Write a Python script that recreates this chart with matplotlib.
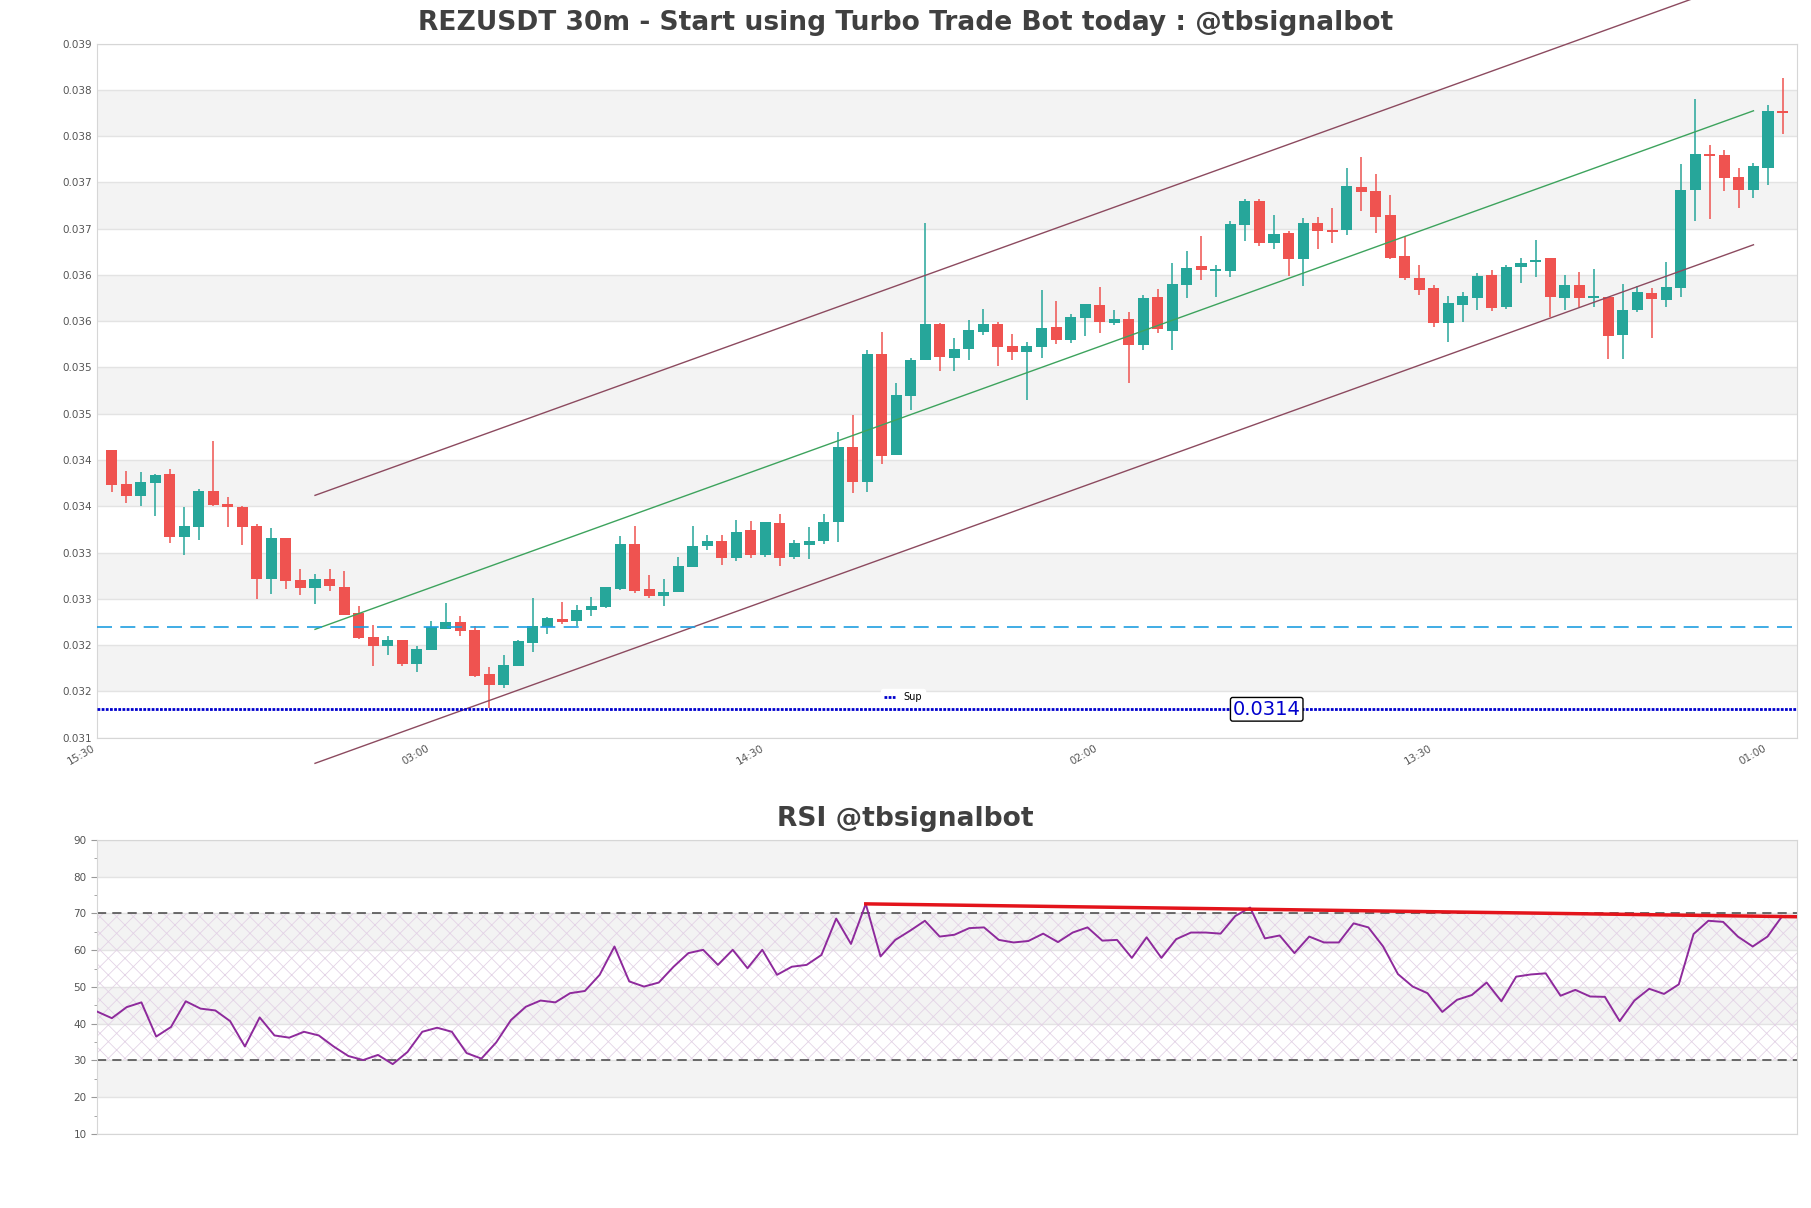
import numpy as np
import matplotlib
matplotlib.use("Agg")
import matplotlib.pyplot as plt
from matplotlib.ticker import FormatStrFormatter, MultipleLocator

# 30m candles
opens = [0.03420, 0.03383, 0.03371, 0.03385, 0.03394, 0.03326, 0.03337, 0.03376, 0.03362, 0.03359,
         0.03338, 0.03281, 0.03325, 0.03280, 0.03271, 0.03281, 0.03272, 0.03244, 0.03218, 0.03208,
         0.03215, 0.03189, 0.03204, 0.03227, 0.03234, 0.03226, 0.03178, 0.03166, 0.03187, 0.03212,
         0.03229, 0.03238, 0.03235, 0.03247, 0.03251, 0.03270, 0.03319, 0.03270, 0.03262, 0.03267,
         0.03294, 0.03316, 0.03322, 0.03303, 0.03334, 0.03307, 0.03341, 0.03305, 0.03318, 0.03322,
         0.03342, 0.03423, 0.03386, 0.03524, 0.03415, 0.03479, 0.03517, 0.03556, 0.03520, 0.03529,
         0.03548, 0.03556, 0.03533, 0.03526, 0.03532, 0.03553, 0.03539, 0.03563, 0.03577, 0.03558,
         0.03562, 0.03534, 0.03586, 0.03549, 0.03599, 0.03619, 0.03614, 0.03614, 0.03663, 0.03689,
         0.03644, 0.03655, 0.03627, 0.03665, 0.03658, 0.03658, 0.03704, 0.03700, 0.03674, 0.03630,
         0.03606, 0.03595, 0.03558, 0.03577, 0.03585, 0.03609, 0.03575, 0.03618, 0.03623, 0.03628,
         0.03585, 0.03599, 0.03585, 0.03586, 0.03544, 0.03571, 0.03590, 0.03582, 0.03595, 0.03701,
         0.03740, 0.03739, 0.03715, 0.03701, 0.03725, 0.03787]
highs = [0.03420, 0.03398, 0.03396, 0.03394, 0.03400, 0.03359, 0.03378, 0.03430, 0.03369, 0.03360,
         0.03340, 0.03336, 0.03325, 0.03292, 0.03286, 0.03292, 0.03289, 0.03252, 0.03231, 0.03219,
         0.03215, 0.03208, 0.03235, 0.03255, 0.03241, 0.03230, 0.03186, 0.03199, 0.03215, 0.03260,
         0.03240, 0.03256, 0.03253, 0.03261, 0.03272, 0.03327, 0.03338, 0.03285, 0.03281, 0.03305,
         0.03338, 0.03328, 0.03328, 0.03345, 0.03343, 0.03342, 0.03351, 0.03323, 0.03337, 0.03351,
         0.03440, 0.03458, 0.03528, 0.03548, 0.03493, 0.03520, 0.03665, 0.03558, 0.03541, 0.03561,
         0.03573, 0.03559, 0.03546, 0.03537, 0.03593, 0.03581, 0.03567, 0.03578, 0.03596, 0.03571,
         0.03569, 0.03588, 0.03594, 0.03622, 0.03635, 0.03651, 0.03620, 0.03668, 0.03692, 0.03691,
         0.03674, 0.03657, 0.03671, 0.03672, 0.03682, 0.03725, 0.03737, 0.03718, 0.03696, 0.03652,
         0.03620, 0.03598, 0.03587, 0.03591, 0.03612, 0.03615, 0.03620, 0.03628, 0.03647, 0.03628,
         0.03609, 0.03613, 0.03616, 0.03586, 0.03600, 0.03597, 0.03595, 0.03623, 0.03729, 0.03799,
         0.03750, 0.03744, 0.03725, 0.03730, 0.03793, 0.03822]
lows = [0.03375, 0.03363, 0.03360, 0.03349, 0.03320, 0.03307, 0.03323, 0.03360, 0.03337, 0.03318,
        0.03259, 0.03265, 0.03270, 0.03264, 0.03254, 0.03268, 0.03242, 0.03216, 0.03187, 0.03199,
        0.03187, 0.03180, 0.03204, 0.03227, 0.03219, 0.03175, 0.03141, 0.03163, 0.03187, 0.03202,
        0.03221, 0.03232, 0.03230, 0.03241, 0.03250, 0.03269, 0.03266, 0.03260, 0.03252, 0.03267,
        0.03294, 0.03312, 0.03296, 0.03300, 0.03303, 0.03305, 0.03295, 0.03302, 0.03302, 0.03319,
        0.03321, 0.03374, 0.03375, 0.03405, 0.03415, 0.03463, 0.03517, 0.03506, 0.03506, 0.03518,
        0.03544, 0.03511, 0.03517, 0.03474, 0.03520, 0.03535, 0.03536, 0.03543, 0.03547, 0.03555,
        0.03493, 0.03528, 0.03547, 0.03528, 0.03585, 0.03604, 0.03586, 0.03607, 0.03646, 0.03641,
        0.03637, 0.03608, 0.03597, 0.03637, 0.03644, 0.03653, 0.03678, 0.03655, 0.03627, 0.03604,
        0.03588, 0.03553, 0.03537, 0.03559, 0.03571, 0.03570, 0.03573, 0.03601, 0.03607, 0.03564,
        0.03571, 0.03575, 0.03575, 0.03519, 0.03519, 0.03569, 0.03541, 0.03575, 0.03586, 0.03668,
        0.03670, 0.03700, 0.03682, 0.03693, 0.03707, 0.03762]
closes = [0.03382, 0.03371, 0.03386, 0.03393, 0.03326, 0.03338, 0.03376, 0.03361, 0.03359, 0.03337,
          0.03281, 0.03325, 0.03279, 0.03271, 0.03281, 0.03273, 0.03242, 0.03217, 0.03208, 0.03215,
          0.03189, 0.03205, 0.03229, 0.03234, 0.03225, 0.03176, 0.03166, 0.03188, 0.03214, 0.03230,
          0.03239, 0.03234, 0.03247, 0.03252, 0.03272, 0.03319, 0.03268, 0.03262, 0.03267, 0.03295,
          0.03316, 0.03322, 0.03304, 0.03332, 0.03307, 0.03342, 0.03304, 0.03320, 0.03322, 0.03342,
          0.03423, 0.03386, 0.03524, 0.03414, 0.03480, 0.03517, 0.03556, 0.03521, 0.03529, 0.03550,
          0.03556, 0.03532, 0.03526, 0.03533, 0.03552, 0.03539, 0.03564, 0.03578, 0.03559, 0.03562,
          0.03534, 0.03584, 0.03551, 0.03600, 0.03617, 0.03615, 0.03615, 0.03664, 0.03689, 0.03644,
          0.03654, 0.03627, 0.03665, 0.03657, 0.03656, 0.03705, 0.03699, 0.03672, 0.03628, 0.03606,
          0.03593, 0.03558, 0.03579, 0.03587, 0.03608, 0.03574, 0.03618, 0.03622, 0.03626, 0.03586,
          0.03599, 0.03585, 0.03586, 0.03543, 0.03572, 0.03591, 0.03583, 0.03596, 0.03701, 0.03740,
          0.03738, 0.03714, 0.03701, 0.03727, 0.03787, 0.03784]

rsi = [43.3, 41.5, 44.5, 45.8, 36.5, 39.1, 46.1, 44.1, 43.6, 40.7,
       33.8, 41.7, 36.8, 36.2, 37.8, 36.8, 33.8, 31.2, 30.1, 31.5,
       29.0, 32.3, 37.8, 38.9, 37.8, 32.0, 30.5, 34.9, 41.0, 44.6,
       46.3, 45.8, 48.3, 48.9, 53.3, 61.0, 51.5, 50.1, 51.2, 55.5,
       59.2, 60.1, 56.0, 60.1, 55.1, 60.1, 53.3, 55.5, 56.0, 58.7,
       68.6, 61.7, 72.6, 58.3, 62.8, 65.3, 68.0, 63.7, 64.2, 66.0,
       66.2, 62.8, 62.1, 62.5, 64.5, 62.2, 64.8, 66.2, 62.6, 62.8,
       57.9, 63.5, 57.9, 63.0, 64.8, 64.8, 64.5, 69.3, 71.6, 63.2,
       64.0, 59.2, 63.7, 62.1, 62.1, 67.3, 66.2, 61.0, 53.5, 50.1,
       48.3, 43.2, 46.5, 47.8, 51.2, 46.1, 52.8, 53.4, 53.7, 47.6,
       49.2, 47.4, 47.3, 40.7, 46.3, 49.5, 48.1, 50.7, 64.4, 68.0,
       67.7, 63.7, 61.0, 63.7, 69.3, 69.1]

time_labels = ["15:30", "03:00", "14:30", "02:00", "13:30", "01:00"]
time_label_idx = [-1, 22, 45, 68, 91, 114]

support = 0.0314
level = 0.03229
channel_idx = [14, 113]
channel_mid = [0.032264, 0.037868]
channel_width = 0.001448
rsi_div_idx = [52, 115]
rsi_div_val = [72.6, 69.1]

opens, highs, lows, closes = map(np.array, (opens, highs, lows, closes))
n = len(closes)
x = np.arange(n)

fig = plt.figure(figsize=(18.11, 12.08), dpi=100)
ax = fig.add_axes([0.0536, 0.3894, 0.9387, 0.5745])
ax2 = fig.add_axes([0.0536, 0.0613, 0.9387, 0.2434])

# ---- price panel ----
y_bottom = 0.031094
yticks = np.linspace(y_bottom, y_bottom + 15 * 0.0005, 16)
for k in range(15):
    if k % 2 == 1:
        ax.axhspan(yticks[k], yticks[k + 1], color="#f3f3f3", lw=0, zorder=0)
for yv in yticks:
    ax.axhline(yv, color="#e3e3e3", lw=1, zorder=0.5)

up = closes >= opens
colors = np.where(up, "#26a69a", "#ef5350")
ax.vlines(x, lows, highs, colors=colors, lw=1.1, zorder=2)
body = np.maximum(np.abs(closes - opens), 0.00002)
ax.bar(x, body, bottom=np.minimum(opens, closes), width=0.76, color=colors, zorder=3)

mid = np.array(channel_mid)
ax.plot(channel_idx, mid, color="#3da35d", lw=1, zorder=4)
ax.plot(channel_idx, mid + channel_width, color="#8c4a5f", lw=1, zorder=4, clip_on=False)
ax.plot(channel_idx, mid - channel_width, color="#8c4a5f", lw=1, zorder=4, clip_on=False)

ax.axhline(level, color="#1f9ee0", lw=1.2, ls=(0, (9, 5)), zorder=4)
ax.axhline(support, color="#0000cd", lw=2.0, ls=(0, (1, 0.5)), zorder=4, label="Sup")
ax.text(79.5, support, "0.0314", color="#0000cd", fontsize=14, ha="center", va="center",
        zorder=6, bbox=dict(boxstyle="round,pad=0.12", fc="white", ec="black", lw=1))
leg = ax.legend(loc="center", bbox_to_anchor=(0.474, 0.058), fontsize=7, frameon=True,
                framealpha=1, edgecolor="white", handlelength=1.2, borderpad=0.3)

ax.set_xlim(-1, n)
ax.set_ylim(yticks[0], yticks[-1])
ax.set_yticks(yticks)
ax.yaxis.set_major_formatter(FormatStrFormatter("%.3f"))
ax.set_xticks(time_label_idx)
ax.set_xticklabels(time_labels, rotation=30, ha="right")
ax.tick_params(axis="both", length=0, labelsize=7.5, labelcolor="#555555", pad=4)
for s in ax.spines.values():
    s.set_color("#d6d6d6")

# ---- RSI panel ----
plt.rcParams["hatch.linewidth"] = 0.6
for lo in range(20, 90, 20):
    ax2.axhspan(lo, lo + 10, color="#f3f3f3", lw=0, zorder=0)
for yv in range(10, 91, 10):
    ax2.axhline(yv, color="#e3e3e3", lw=1, zorder=0.5)
ax2.fill_between([0, n - 1], 30, 70, facecolor="none", hatch="xx", edgecolor="#e3d3e6",
                 lw=0, zorder=0.8)
ax2.axhline(70, color="#444444", lw=1.1, ls=(0, (6, 4)), zorder=2)
ax2.axhline(30, color="#444444", lw=1.1, ls=(0, (6, 4)), zorder=2)
ax2.plot(x, rsi, color="#8e2a9c", lw=1.4, zorder=3)
ax2.plot(rsi_div_idx, rsi_div_val, color="#e3141b", lw=2.5, zorder=4)

ax2.set_xlim(0, n - 1)
ax2.set_ylim(10, 90)
ax2.set_xticks([])
ax2.yaxis.set_major_locator(MultipleLocator(10))
ax2.yaxis.set_minor_locator(MultipleLocator(5))
ax2.tick_params(axis="y", which="major", length=4, color="#999999", labelsize=7.5,
                labelcolor="#555555")
ax2.tick_params(axis="y", which="minor", length=2.5, color="#999999")
for s in ax2.spines.values():
    s.set_color("#d6d6d6")

fig.text(0.5, 1 - 23 / 1208, "REZUSDT 30m - Start using Turbo Trade Bot today : @tbsignalbot",
         ha="center", va="center", fontsize=19.1, fontweight="bold", color="#404040")
fig.text(0.5, 1 - 819 / 1208, "RSI @tbsignalbot", ha="center", va="center",
         fontsize=19.1, fontweight="bold", color="#404040")

fig.savefig("out.png", dpi=100)
